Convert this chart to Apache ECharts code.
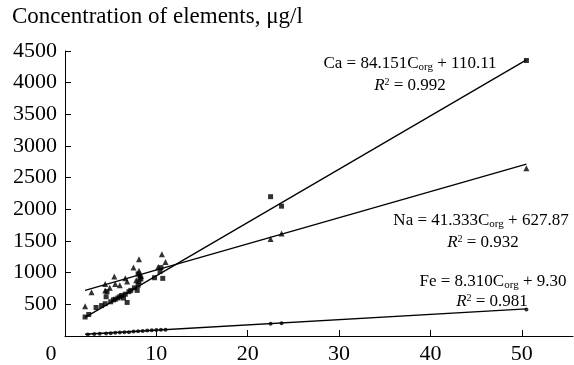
<!DOCTYPE html>
<html><head><meta charset="utf-8">
<script src="https://cdn.jsdelivr.net/npm/echarts@6/dist/echarts.min.js"></script>
<style>html,body{margin:0;padding:0;background:#fff}#c{width:574px;height:365px}</style>
</head><body><div id="c"></div>
<script>
// Measured points (x = Corg, y = concentration µg/l)
const caPoints = [[2.2,300],[2.6,340],[3.4,450],[4.0,480],[4.4,510],[4.5,620],[4.6,700],[5.0,540],[5.3,570],[5.5,580],[5.8,600],[6.0,620],[6.2,640],[6.4,600],[6.6,660],[6.8,530],[7.0,700],[7.2,720],[7.6,760],[7.9,720],[8.0,800],[8.1,860],[8.2,940],[8.0,980],[8.3,900],[9.8,920],[10.4,1020],[10.7,910],[10.5,1080],[22.5,2200],[23.7,2050],[50.5,4350]];
const naPoints = [[2.2,470],[2.9,690],[4.4,720],[4.4,820],[4.9,760],[5.4,940],[5.5,820],[6.0,800],[6.6,910],[6.8,860],[7.5,1080],[7.8,880],[8.1,1210],[8.1,1030],[8.3,950],[10.2,1090],[10.6,1290],[11.0,1170],[22.5,1530],[23.7,1620],[50.5,2650]];
const fePoints = [[2.5,25],[3.2,30],[3.8,35],[4.5,40],[5.0,45],[5.5,50],[6.0,55],[6.5,60],[7.0,60],[7.5,70],[8.0,75],[8.5,80],[9.0,85],[9.5,90],[10.0,95],[10.5,100],[11.0,100],[22.5,195],[23.7,200],[50.5,420]];
// Regression line end points
const caLine = [[2.2,295],[50.5,4360]];
const naLine = [[2.2,719],[50.5,2715]];
const feLine = [[2.2,28],[50.5,429]];
const xTicks = [0,10,20,30,40,50];
const yTicks = [500,1000,1500,2000,2500,3000,3500,4000,4500];
const titleText = 'Concentration of elements, μg/l';

const F = 'Liberation Serif, Times New Roman, serif';
const rich = {
  s:{fontSize:11,fontFamily:F,color:'#000',padding:[7,0,0,0]},
  i:{fontSize:17,fontFamily:F,color:'#000',fontStyle:'italic'},
  p:{fontSize:10,fontFamily:F,color:'#000',padding:[0,0,8,0]}
};

const chart = echarts.init(document.getElementById('c'));
const lineSeries = (d)=>({type:'line',data:d,symbol:'none',lineStyle:{color:'#000',width:1.3},silent:true,z:1});
const scat = (d,sym,size)=>({type:'scatter',data:d,symbol:sym,symbolSize:size,itemStyle:{color:'#000'},z:2});
chart.setOption({
  animation:false,
  grid:{left:65,right:1,top:51,bottom:27},
  xAxis:{type:'value',min:0,max:55.6,interval:10,
    axisLine:{lineStyle:{color:'#000',width:1}},
    axisTick:{inside:true,length:6,lineStyle:{color:'#000'}},
    splitLine:{show:false},
    axisLabel:{fontSize:22,fontFamily:F,color:'#000',margin:7,showMaxLabel:false,
      formatter:v=>xTicks.includes(v)?(v===0?'{z|0}':String(v)):'',
      rich:{z:{fontSize:22,fontFamily:F,color:'#000',padding:[0,28,0,0]}}}},
  yAxis:{type:'value',min:0,max:4500,interval:500,
    axisLine:{show:true,lineStyle:{color:'#000',width:1}},
    axisTick:{inside:true,length:6,lineStyle:{color:'#000'}},
    splitLine:{show:false},
    axisLabel:{fontSize:22,fontFamily:F,color:'#000',margin:8,
      formatter:v=>yTicks.includes(v)?String(v):''}},
  graphic:[
    {type:'text',left:12,top:5,style:{text:titleText,font:'23px '+F,fill:'#000'}},
    {type:'text',x:410,y:55,style:{text:'Ca = 84.151C{s|org} + 110.11',font:'17px '+F,fill:'#000',rich:rich,align:'center'}},
    {type:'text',x:410,y:77,style:{text:'{i|R}{p|2} = 0.992',font:'17px '+F,fill:'#000',rich:rich,align:'center'}},
    {type:'text',x:481,y:212,style:{text:'Na = 41.333C{s|org} + 627.87',font:'17px '+F,fill:'#000',rich:rich,align:'center'}},
    {type:'text',x:483,y:234,style:{text:'{i|R}{p|2} = 0.932',font:'17px '+F,fill:'#000',rich:rich,align:'center'}},
    {type:'text',x:493,y:273,style:{text:'Fe = 8.310C{s|org} + 9.30',font:'17px '+F,fill:'#000',rich:rich,align:'center'}},
    {type:'text',x:492,y:293,style:{text:'{i|R}{p|2} = 0.981',font:'17px '+F,fill:'#000',rich:rich,align:'center'}}
  ],
  series:[
    lineSeries(caLine),lineSeries(naLine),lineSeries(feLine),
    scat(caPoints,'rect',5),scat(naPoints,'triangle',6),scat(fePoints,'circle',4)
  ]
});
</script></body></html>
